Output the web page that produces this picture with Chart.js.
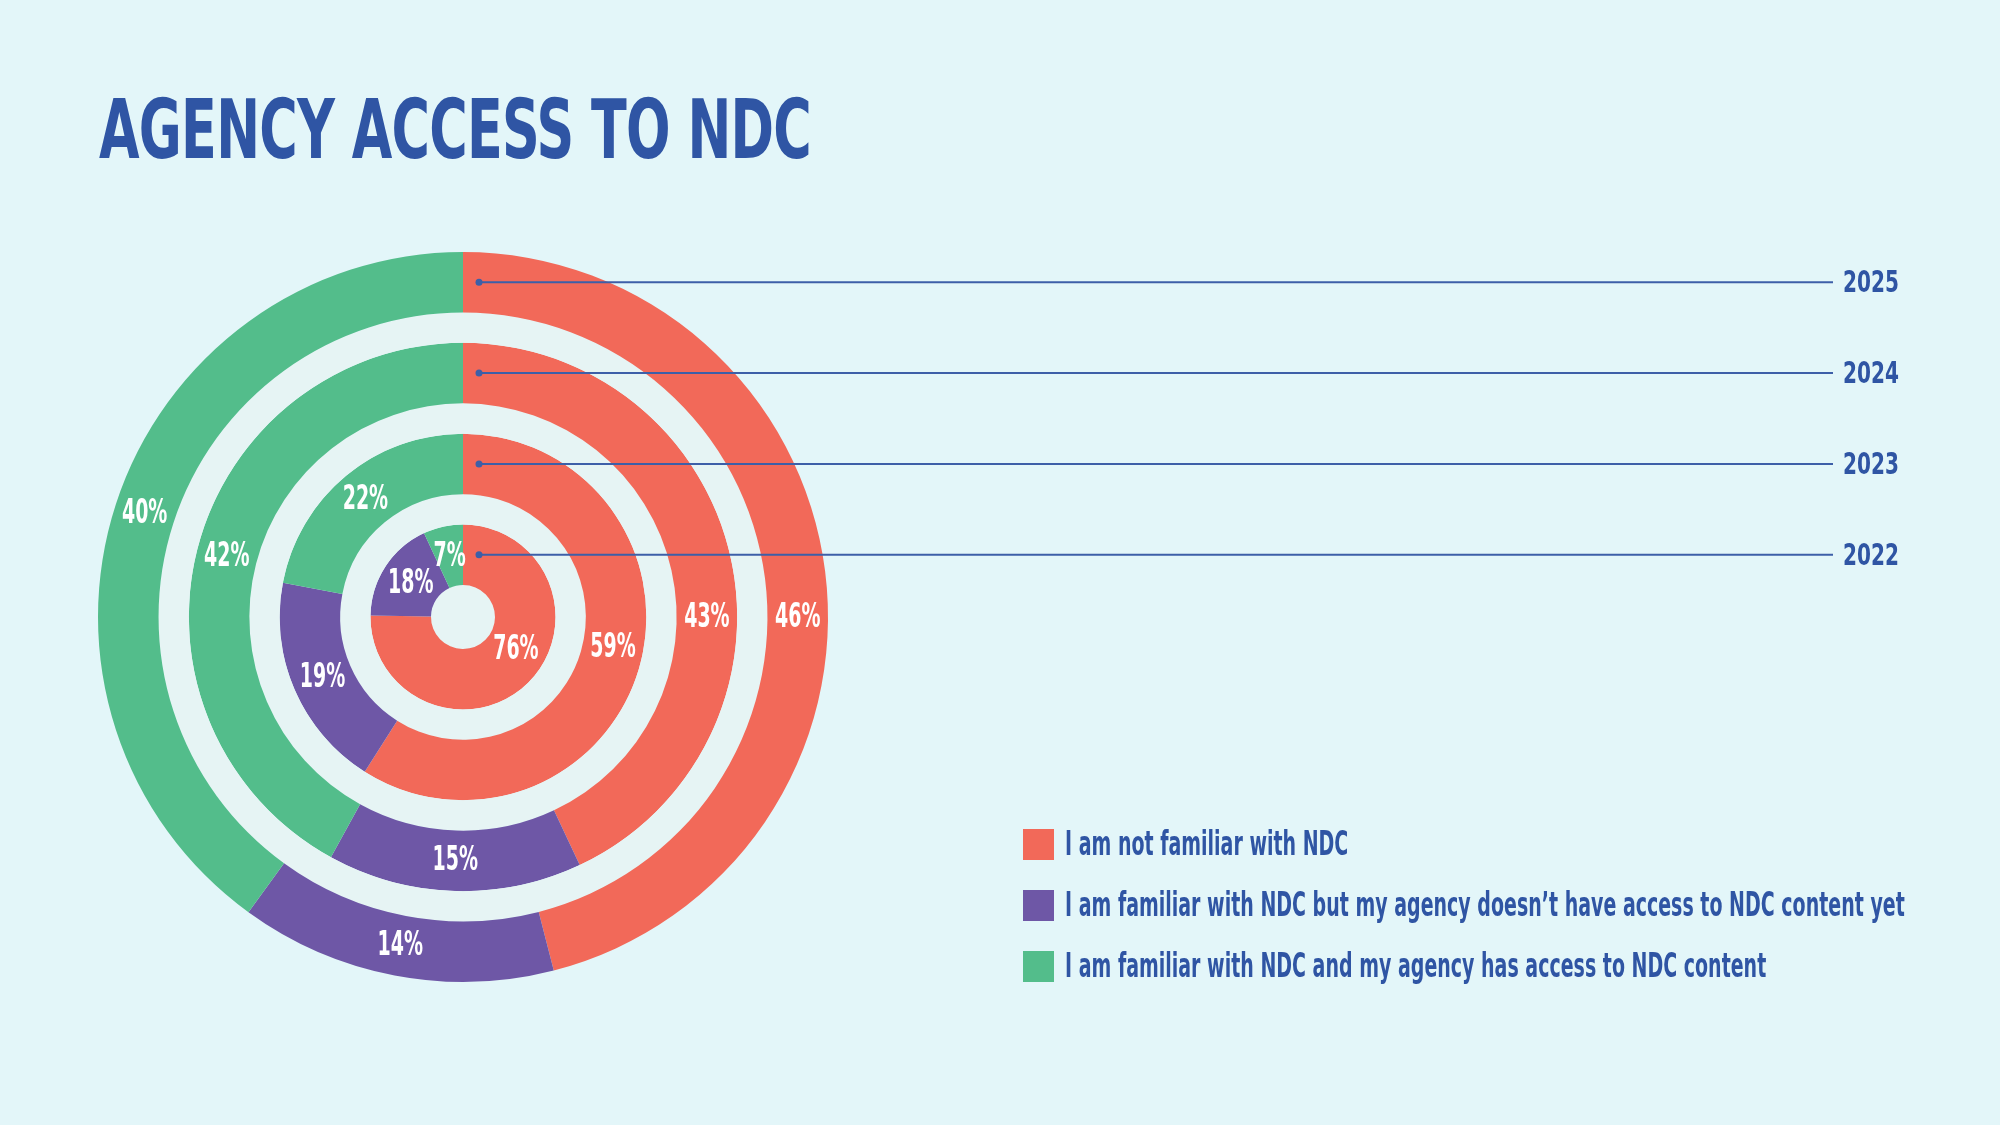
<!DOCTYPE html>
<html>
<head>
<meta charset="utf-8">
<script src="https://cdn.jsdelivr.net/npm/chart.js@4"></script>
<style>
    html, body { margin: 0; padding: 0; background: #e3f6f9; }
    body { width: 2000px; height: 1125px; position: relative; overflow: hidden;
           font-family: "Liberation Sans Narrow", "DejaVu Sans Condensed", "Roboto", sans-serif; color: #2f55a4; }
    #wrap { position: absolute; left: 0; top: 0; width: 2000px; height: 1125px; }
    h1 { position: absolute; left: 99px; top: 82px; margin: 0; font-size: 82px; font-weight: 700;
         transform: scaleX(0.71); transform-origin: left top; white-space: nowrap; letter-spacing: -1px; }
    .legend { position: absolute; left: 1023px; top: 829px; }
    .item { position: relative; height: 31px; margin-bottom: 30px; white-space: nowrap; }
    .box { position: absolute; left: 0; top: 0; width: 31px; height: 31px; }
    .lbl { position: absolute; left: 42px; top: -4px; font-size: 33px; font-weight: 700; line-height: 38px;
           transform: scaleX(0.64); transform-origin: left center; }
</style>
</head>
<body>
<h1>AGENCY ACCESS TO NDC</h1>
<div id="wrap"><canvas id="ringChart" width="2000" height="1125"></canvas></div>
<div class="legend" id="legend"></div>
<script>
// answer categories (legend order)
const categories = [
    'I am not familiar with NDC',
    'I am familiar with NDC but my agency doesn\u2019t have access to NDC content yet',
    'I am familiar with NDC and my agency has access to NDC content'
];
// survey years, inner ring first
const years = ['2022', '2023', '2024', '2025'];
// % per year, same order as years
const notFamiliar = [76, 59, 43, 46];
const familiarNoAccess = [18, 19, 15, 14];
const familiarWithAccess = [7, 22, 42, 40];

const colors = ['#f26959', '#6e57a6', '#53bd8b'];
const gapColor = '#e6f4f4';
const blue = '#2f55a4';
const condensed = '"Liberation Sans Narrow", "DejaVu Sans Condensed", sans-serif';

// legend
const legendEl = document.getElementById('legend');
categories.forEach(function (c, i) {
    const item = document.createElement('div');
    item.className = 'item';
    item.innerHTML = '<div class="box" style="background:' + colors[i] + '"></div><div class="lbl">' + c + '</div>';
    legendEl.appendChild(item);
});

// outermost ring is the first dataset in Chart.js, spacer rings make the gaps
const datasets = [];
for (let i = years.length - 1; i >= 0; i--) {
    datasets.push({
        label: years[i],
        data: [notFamiliar[i], familiarNoAccess[i], familiarWithAccess[i]],
        backgroundColor: colors,
        borderWidth: 0,
        weight: 1
    });
    if (i > 0) {
        datasets.push({ label: 'gap', data: [1], backgroundColor: [gapColor], borderWidth: 0, weight: 0.5, spacer: true });
    }
}

const ringPlugin = {
    id: 'ringPlugin',
    beforeDatasetsDraw(chart) {
        // center hole
        const arc = chart.getDatasetMeta(chart.data.datasets.length - 1).data[0];
        const ctx = chart.ctx;
        ctx.save();
        ctx.fillStyle = gapColor;
        ctx.beginPath();
        ctx.arc(arc.x, arc.y, arc.innerRadius, 0, Math.PI * 2);
        ctx.fill();
        ctx.restore();
    },
    afterDraw(chart) {
        const ctx = chart.ctx;
        chart.data.datasets.forEach(function (ds, di) {
            if (ds.spacer) return;
            const meta = chart.getDatasetMeta(di);
            const first = meta.data[0];
            const midR = (first.innerRadius + first.outerRadius) / 2;
            const y = first.y - midR;
            const x0 = first.x + 16;
            // leader line + year
            ctx.save();
            ctx.strokeStyle = '#3d5fa8';
            ctx.lineWidth = 2;
            ctx.beginPath();
            ctx.moveTo(x0, y);
            ctx.lineTo(1833, y);
            ctx.stroke();
            ctx.fillStyle = '#3d5fa8';
            ctx.beginPath();
            ctx.arc(x0, y, 3.5, 0, Math.PI * 2);
            ctx.fill();
            ctx.translate(1843, y);
            ctx.scale(0.72, 1);
            ctx.fillStyle = blue;
            ctx.font = 'bold 31px ' + condensed;
            ctx.textAlign = 'left';
            ctx.textBaseline = 'middle';
            ctx.fillText(ds.label, 0, 2);
            ctx.restore();
            // value labels: the big first slice gets its label pulled toward 3 o'clock
            meta.data.forEach(function (a, j) {
                let ang = (a.startAngle + a.endAngle) / 2 + Math.PI / 2; // clockwise from top
                if (j === 0) ang = Math.max(Math.PI / 2, Math.PI / 2 + (ang - Math.PI / 2) * 0.7);
                const r = (a.innerRadius + a.outerRadius) / 2;
                const px = a.x + r * Math.sin(ang);
                const py = a.y - r * Math.cos(ang);
                ctx.save();
                ctx.translate(px, py);
                ctx.scale(0.64, 1);
                ctx.fillStyle = '#ffffff';
                ctx.font = 'bold 33px ' + condensed;
                ctx.textAlign = 'center';
                ctx.textBaseline = 'middle';
                ctx.fillText(ds.data[j] + '%', 0, 1);
                ctx.restore();
            });
        });
    }
};

const ringCtx = document.getElementById('ringChart').getContext('2d');
const ringChart = new Chart(ringCtx, {
    type: 'doughnut',
    data: { labels: categories, datasets: datasets },
    options: {
        responsive: false,
        animation: false,
        cutout: 32,
        layout: { padding: { left: 98, right: 1172, top: 252, bottom: 143 } },
        plugins: {
            legend: { display: false },
            tooltip: { enabled: false }
        }
    },
    plugins: [ringPlugin]
});
</script>
</body>
</html>
